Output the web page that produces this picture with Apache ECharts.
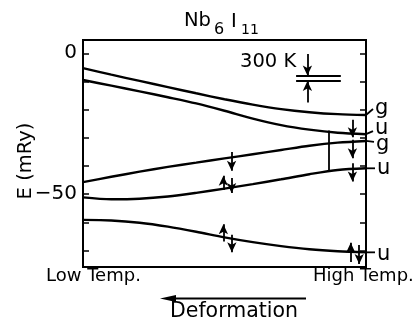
<!DOCTYPE html>
<html><head><meta charset="utf-8">
<script src="https://cdn.jsdelivr.net/npm/echarts@6/dist/echarts.min.js"></script>
<style>html,body{margin:0;padding:0;background:#fff}#c{width:414px;height:327px}</style>
</head><body><div id="c"></div>
<script>
// ---- data (energies in mRy, x = fraction from Low Temp. to High Temp.) ----
const xFrac   = [0, 0.1, 0.2, 0.3, 0.4, 0.5, 0.6, 0.7, 0.8, 0.9, 1.0];
const level1g = [-5.3, -7.6, -9.8, -12.0, -14.2, -16.3, -18.2, -19.8, -20.9, -21.6, -21.9];
const level2u = [-9.5, -11.5, -13.5, -15.6, -17.8, -20.4, -23.2, -25.5, -27.1, -28.2, -28.7];
const level3g = [-45.7, -43.8, -42.0, -40.3, -38.8, -37.3, -35.8, -34.3, -32.8, -31.7, -31.1];
const level4u = [-51.1, -51.8, -51.6, -50.8, -49.5, -48.0, -46.4, -44.7, -42.9, -41.4, -40.8];
const level5u = [-59.1, -59.3, -60.1, -61.5, -63.3, -65.3, -67.0, -68.4, -69.5, -70.2, -70.6];
const symmetryLabels = ['g', 'u', 'g', 'u', 'u'];
const yTickValues  = [0, -10, -20, -30, -40, -50, -60, -70];
const yLabelValues = [0, -50];
// spin arrows: [x, tail E, tip E]
const spinArrows = [
  [0.525, -35.0, -41.7],
  [0.496, -48.5, -43.4],
  [0.525, -44.2, -49.6],
  [0.496, -66.8, -60.6],
  [0.526, -64.4, -70.6],
  [0.952, -23.6, -29.8],
  [0.952, -30.7, -37.2],
  [0.952, -39.0, -45.5],
  [0.946, -74.0, -67.2],
  [0.976, -68.0, -74.7]
];
// 300 K scale marker (kT at 300 K)
const kTLevels = [-7.9, -9.8];
const kTSpan = [0.753, 0.911];
const kTArrowX = 0.793;
const kTArrows = [[-0.3, -7.9], [-17.5, -9.8]];
// gap bar between the u levels
const gapBar = [0.870, -27.4, -41.7];

const levels = [level1g, level2u, level3g, level4u, level5u];
const INK = '#000';
const FONT = 'DejaVu Sans';
const yMin = -75.8, yMax = 4.7;

const chart = echarts.init(document.getElementById('c'), null, {renderer: 'canvas'});

function arrowLine(x, from, to) {
  return [{coord: [x, from], symbol: 'none'}, {coord: [x, to], symbol: 'arrow'}];
}
function plainLine(x1, y1, x2, y2) {
  return [{coord: [x1, y1], symbol: 'none'}, {coord: [x2, y2], symbol: 'none'}];
}

const markData = [];
spinArrows.forEach(a => markData.push(arrowLine(a[0], a[1], a[2])));
kTLevels.forEach(v => markData.push(plainLine(kTSpan[0], v, kTSpan[1], v)));
kTArrows.forEach(a => markData.push(arrowLine(kTArrowX, a[0], a[1])));
markData.push(plainLine(gapBar[0], gapBar[1], gapBar[0], gapBar[2]));

const yAxisBase = {
  type: 'value', min: yMin, max: yMax,
  axisLine: {show: false}, splitLine: {show: false},
  axisTick: {show: true, inside: true, length: 6, customValues: yTickValues,
             lineStyle: {color: INK, width: 1.5}}
};

chart.setOption({
  animation: false,
  backgroundColor: '#fff',
  grid: {left: 83, right: 48, top: 40, bottom: 60, show: true,
         borderColor: INK, borderWidth: 2, backgroundColor: 'transparent'},
  xAxis: {type: 'value', min: 0, max: 1, axisLine: {show: false},
          axisTick: {show: false}, axisLabel: {show: false}, splitLine: {show: false}},
  yAxis: [
    Object.assign({}, yAxisBase, {position: 'left',
      axisLabel: {show: true, customValues: yLabelValues, margin: 6,
                  formatter: v => (v < 0 ? '\u2212' + Math.abs(v) : String(v)),
                  color: INK, fontFamily: FONT, fontSize: 20}}),
    Object.assign({}, yAxisBase, {position: 'right', axisLabel: {show: false}})
  ],
  series: levels.map((lv, i) => ({
    type: 'line',
    data: xFrac.map((x, j) => [x, lv[j]]),
    smooth: 0.3, symbol: 'none', silent: true,
    lineStyle: {color: INK, width: 2.4},
    markLine: i === 0 ? {
      silent: true, animation: false,
      symbolSize: [7, 10],
      label: {show: false},
      emphasis: {disabled: true},
      lineStyle: {color: INK, width: 1.8, type: 'solid'},
      data: markData
    } : undefined
  }))
});

// ---- text & leaders ----
const g = [];
function txt(text, x, y, size, opts) {
  g.push(Object.assign({type: 'text', x: x, y: y, silent: true,
    style: {text: text, font: size + 'px "' + FONT + '"', fill: INK,
            align: 'left', verticalAlign: 'middle'}}, opts || {}));
}
// title Nb6 I11
txt('Nb', 184, 21, 19.5);
txt('6', 214, 29.5, 16);
txt('I', 231, 21.5, 19.5);
txt('11', 241, 30, 14);
// 300 K
txt('300 K', 240, 61.5, 19.5);
// axis name
g.push({type: 'text', x: 26, y: 161, rotation: Math.PI / 2, silent: true,
  style: {text: 'E (mRy)', font: '19.5px "' + FONT + '"', fill: INK, align: 'center', verticalAlign: 'middle'}});
// x end labels
txt('Low Temp.', 46, 276, 18);
txt('High Temp.', 313, 276, 18);
txt('Deformation', 170, 312, 20.5);
// deformation arrow
g.push({type: 'line', silent: true, shape: {x1: 306, y1: 298.5, x2: 170, y2: 298.5},
        style: {stroke: INK, lineWidth: 2}});
g.push({type: 'polygon', silent: true, shape: {points: [[160, 298.5], [176, 295], [176, 302]]},
        style: {fill: INK}});

// leaders from each level's end to its symmetry label
const leaderOffsets = [
  {lx: 7, ly: -6, ty: -6},
  {lx: 7, ly: -3, ty: -5.5},
  {lx: 8, ly: 1, ty: 4},
  {lx: 9, ly: 0, ty: 0},
  {lx: 9, ly: 0, ty: 2}
];
levels.forEach((lv, i) => {
  const p = chart.convertToPixel({gridIndex: 0}, [xFrac[xFrac.length - 1], lv[lv.length - 1]]);
  const o = leaderOffsets[i];
  g.push({type: 'line', silent: true, shape: {x1: p[0], y1: p[1], x2: p[0] + o.lx, y2: p[1] + o.ly},
          style: {stroke: INK, lineWidth: 1.8}});
  txt(symmetryLabels[i], p[0] + o.lx + 2, p[1] + o.ty, 21);
});

chart.setOption({graphic: g});
</script></body></html>
